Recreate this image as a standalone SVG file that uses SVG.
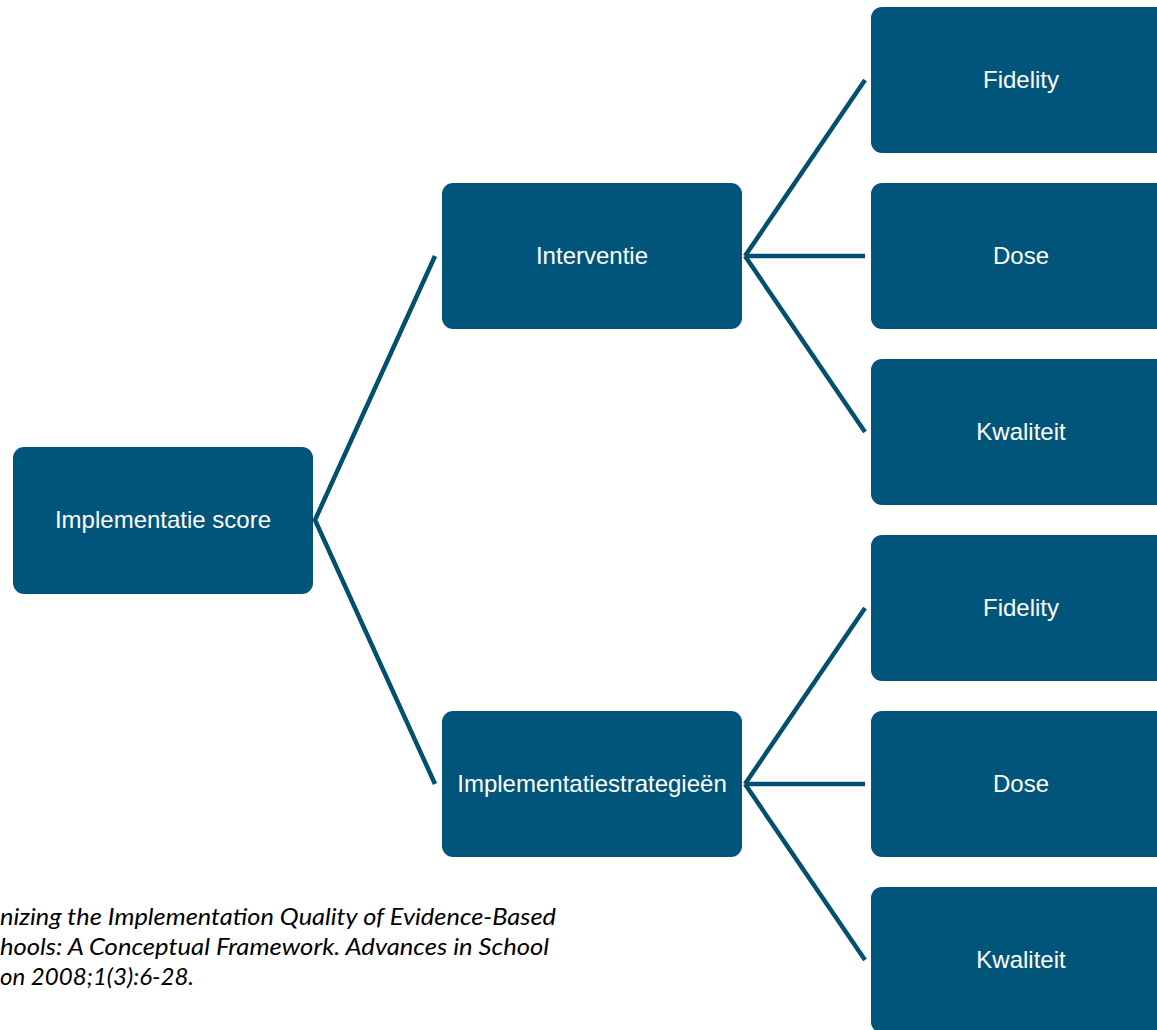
<svg xmlns="http://www.w3.org/2000/svg" width="1157" height="1030" viewBox="0 0 1157 1030">
<style>
.box{fill:#02557a;}
.lbl{font-family:"Liberation Sans",Arial,sans-serif;font-size:24px;fill:#ffffff;text-anchor:middle;}
.conn{stroke:#034f6f;stroke-width:4.5;fill:none;}
.cite{font-family:Lato,"Liberation Sans",sans-serif;font-style:italic;font-size:24px;fill:#000000;}
</style>
<rect width="1157" height="1030" fill="#ffffff"/>
<g id="connectors">
<polyline class="conn" points="435,256 315,520 435,784"/>
<line class="conn" x1="745" y1="256" x2="865" y2="80"/>
<line class="conn" x1="745" y1="256" x2="865" y2="256"/>
<line class="conn" x1="745" y1="256" x2="865" y2="432"/>
<line class="conn" x1="745" y1="784" x2="865" y2="608"/>
<line class="conn" x1="745" y1="784" x2="865" y2="784"/>
<line class="conn" x1="745" y1="784" x2="865" y2="960"/>
</g>
<g id="node-root"><rect class="box" x="13" y="447" width="300" height="147" rx="11"/><text class="lbl" x="163" y="528">Implementatie score</text></g>
<g id="node-interventie"><rect class="box" x="442" y="183" width="300" height="146" rx="11"/><text class="lbl" x="592" y="264">Interventie</text></g>
<g id="node-strategieen"><rect class="box" x="442" y="711" width="300" height="146" rx="11"/><text class="lbl" x="592" y="792">Implementatiestrategieën</text></g>
<g id="node-fidelity1"><rect class="box" x="871" y="7" width="300" height="146" rx="11"/><text class="lbl" x="1021" y="88">Fidelity</text></g>
<g id="node-dose1"><rect class="box" x="871" y="183" width="300" height="146" rx="11"/><text class="lbl" x="1021" y="264">Dose</text></g>
<g id="node-kwaliteit1"><rect class="box" x="871" y="359" width="300" height="146" rx="11"/><text class="lbl" x="1021" y="440">Kwaliteit</text></g>
<g id="node-fidelity2"><rect class="box" x="871" y="535" width="300" height="146" rx="11"/><text class="lbl" x="1021" y="616">Fidelity</text></g>
<g id="node-dose2"><rect class="box" x="871" y="711" width="300" height="146" rx="11"/><text class="lbl" x="1021" y="792">Dose</text></g>
<g id="node-kwaliteit2"><rect class="box" x="871" y="887" width="300" height="146" rx="11"/><text class="lbl" x="1021" y="968">Kwaliteit</text></g>
<g id="citation">
<text class="cite" x="0" y="925" textLength="556" lengthAdjust="spacingAndGlyphs">nizing the Implementation Quality of Evidence-Based</text>
<text class="cite" x="0" y="955" textLength="549" lengthAdjust="spacingAndGlyphs">hools: A Conceptual Framework. Advances in School</text>
<text class="cite" x="0" y="985" textLength="194" lengthAdjust="spacingAndGlyphs">on 2008;1(3):6-28.</text>
</g>
</svg>
